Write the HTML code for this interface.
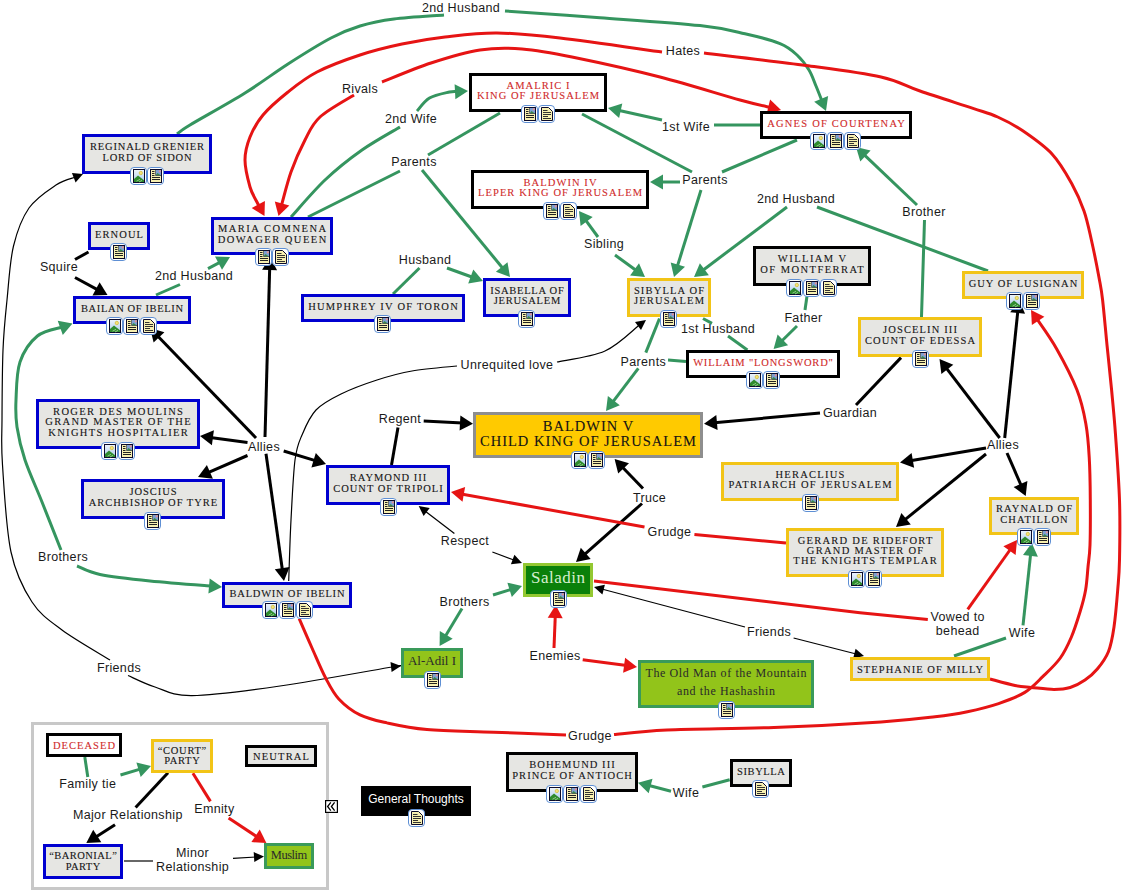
<!DOCTYPE html>
<html><head><meta charset="utf-8">
<style>
html,body{margin:0;padding:0;background:#fff;width:1123px;height:891px;overflow:hidden;position:relative}
.box{position:absolute;box-sizing:border-box;display:flex;align-items:center;justify-content:center;text-align:center}
.t{white-space:nowrap}
.icons{position:absolute;display:flex;height:18px}
svg.edges{position:absolute;left:0;top:0}
.lbl{position:absolute;font-family:"Liberation Sans",sans-serif;font-size:12.5px;letter-spacing:0.35px;color:#1a1a1a;white-space:nowrap;line-height:14px;text-align:center;transform:translate(-50%,calc(-50% + 1px))}
</style></head><body>
<div style="position:absolute;left:31px;top:722px;width:298px;height:168px;box-sizing:border-box;border:3px solid #c8c8c8"></div>
<svg style="position:absolute;left:325px;top:800px" width="13" height="13" viewBox="0 0 13 13"><rect x="0.6" y="0.6" width="11.8" height="11.8" fill="#fff" stroke="#000" stroke-width="1.2"/><path d="M5.8 2.3 L2.6 6.5 L5.8 10.7 M9.6 2.3 L6.4 6.5 L9.6 10.7" fill="none" stroke="#000" stroke-width="1.3"/></svg>
<svg class="edges" width="1123" height="891"><path d="M177.0,134.0 C179.2,132.5 178.7,131.8 190.0,125.0 C201.3,118.2 228.7,103.2 245.0,93.0 C261.3,82.8 273.7,73.2 288.0,64.0 C302.3,54.8 319.0,44.3 331.0,38.0 C343.0,31.7 349.5,29.2 360.0,26.0 C370.5,22.8 380.0,20.8 394.0,19.0 C408.0,17.2 435.7,15.7 444.0,15.0" fill="none" stroke="#35955f" stroke-width="3" stroke-linejoin="round" stroke-linecap="butt"/><path d="M505.0,11.0 C520.8,12.1 567.5,15.3 600.0,17.7 C632.5,20.1 675.8,22.9 700.0,25.6 C724.2,28.3 731.7,30.7 745.0,33.7 C758.3,36.7 771.3,40.1 780.0,43.6 C788.7,47.1 792.2,50.6 797.0,55.0 C801.8,59.4 805.8,64.8 809.0,70.0 C812.2,75.2 813.8,80.8 816.0,86.0 C818.2,91.2 821.1,98.8 822.1,101.3" fill="none" stroke="#35955f" stroke-width="3" stroke-linejoin="round" stroke-linecap="butt"/><path d="M826.0,111.0 L814.2,101.7 L828.1,96.1 Z" fill="#35955f"/><path d="M990.0,679.0 C994.2,680.1 1008.2,684.1 1015.0,685.5 C1021.8,686.9 1024.5,686.8 1031.0,687.4 C1037.5,688.0 1047.5,689.4 1054.0,689.4 C1060.5,689.4 1065.0,689.1 1070.2,687.5 C1075.4,685.9 1080.5,683.1 1085.0,680.0 C1089.5,676.9 1093.4,673.7 1097.3,669.0 C1101.2,664.3 1105.6,658.7 1108.4,651.7 C1111.2,644.7 1112.5,637.3 1114.0,627.0 C1115.5,616.7 1116.8,601.2 1117.7,590.0 C1118.6,578.8 1119.2,575.0 1119.5,560.0 C1119.8,545.0 1120.2,520.9 1119.5,500.0 C1118.8,479.1 1116.8,452.9 1115.5,434.6 C1114.2,416.3 1113.0,404.9 1111.6,390.0 C1110.2,375.1 1108.5,360.0 1107.0,345.0 C1105.5,330.0 1103.9,311.2 1102.6,300.0 C1101.3,288.8 1100.8,287.4 1099.0,277.5 C1097.2,267.6 1094.0,251.6 1091.5,240.5 C1089.0,229.4 1087.3,220.5 1084.0,211.0 C1080.7,201.5 1077.1,193.2 1071.8,183.7 C1066.5,174.2 1060.2,162.8 1052.0,154.0 C1043.8,145.2 1031.5,136.8 1022.4,130.6 C1013.4,124.4 1005.9,120.7 997.7,117.0 C989.5,113.3 986.0,112.7 973.0,108.4 C960.0,104.1 935.3,96.2 920.0,91.0 C904.7,85.8 900.0,81.2 881.0,77.0 C862.0,72.8 835.5,69.5 806.0,65.5 C776.5,61.5 721.0,55.1 704.0,53.0" fill="none" stroke="#e61414" stroke-width="3" stroke-linejoin="round" stroke-linecap="butt"/><path d="M662.0,52.0 C645.0,49.7 587.5,41.2 560.0,38.0 C532.5,34.8 516.2,33.2 497.0,33.0 C477.8,32.8 460.8,35.2 445.0,37.0 C429.2,38.8 416.2,41.0 402.0,44.0 C387.8,47.0 374.2,50.3 360.0,55.0 C345.8,59.7 329.0,65.8 317.0,72.0 C305.0,78.2 297.0,84.8 288.0,92.0 C279.0,99.2 269.3,107.5 263.0,115.0 C256.7,122.5 253.0,129.5 250.0,137.0 C247.0,144.5 245.0,151.7 245.0,160.0 C245.0,168.3 248.1,180.2 250.0,187.0 C251.9,193.8 254.8,197.7 256.4,201.0 C258.0,204.3 259.0,205.9 259.6,206.8" fill="none" stroke="#e61414" stroke-width="3" stroke-linejoin="round" stroke-linecap="butt"/><path d="M264.5,216.0 L251.7,208.1 L264.9,201.0 Z" fill="#e61414"/><path d="M281.3,206.0 C283.0,200.3 287.1,183.0 291.0,172.0 C294.9,161.0 300.2,149.2 305.0,140.0 C309.8,130.8 311.8,124.5 320.0,117.0 C328.2,109.5 348.3,98.7 354.0,95.0" fill="none" stroke="#e61414" stroke-width="3" stroke-linejoin="round" stroke-linecap="butt"/><path d="M278.5,216.0 L274.8,201.4 L289.3,205.5 Z" fill="#e61414"/><path d="M382.0,82.0 C390.2,78.8 414.7,68.3 431.0,63.0 C447.3,57.7 464.8,52.3 480.0,50.0 C495.2,47.7 506.7,47.8 522.0,49.0 C537.3,50.2 549.0,52.3 572.0,57.0 C595.0,61.7 632.0,69.8 660.0,77.0 C688.0,84.2 721.5,94.9 740.0,100.0 C758.5,105.1 765.7,106.3 770.9,107.5" fill="none" stroke="#e61414" stroke-width="3" stroke-linejoin="round" stroke-linecap="butt"/><path d="M781.0,110.0 L766.6,114.2 L770.1,99.6 Z" fill="#e61414"/><path d="M291.0,217.0 C296.7,210.8 313.2,191.2 325.0,180.0 C336.8,168.8 349.5,158.8 362.0,150.0 C374.5,141.2 393.7,130.8 400.0,127.0" fill="none" stroke="#35955f" stroke-width="3" stroke-linejoin="round" stroke-linecap="butt"/><path d="M417.0,111.0 C419.1,108.8 424.1,101.2 429.5,98.0 C434.9,94.8 444.8,93.1 449.5,92.0 C454.2,90.9 456.3,91.6 457.6,91.6" fill="none" stroke="#35955f" stroke-width="3" stroke-linejoin="round" stroke-linecap="butt"/><path d="M468.0,91.0 L455.4,99.2 L454.6,84.2 Z" fill="#35955f"/><path d="M308.0,217.0 L400.0,171.0" fill="none" stroke="#35955f" stroke-width="3" stroke-linejoin="round" stroke-linecap="butt"/><path d="M428.0,155.0 L500.0,113.0" fill="none" stroke="#35955f" stroke-width="3" stroke-linejoin="round" stroke-linecap="butt"/><path d="M422.0,170.0 L503.4,269.0" fill="none" stroke="#35955f" stroke-width="3" stroke-linejoin="round" stroke-linecap="butt"/><path d="M510.0,277.0 L495.9,271.7 L507.5,262.2 Z" fill="#35955f"/><path d="M662.0,120.0 L618.2,110.3" fill="none" stroke="#35955f" stroke-width="3" stroke-linejoin="round" stroke-linecap="butt"/><path d="M608.0,108.0 L622.3,103.5 L619.1,118.1 Z" fill="#35955f"/><path d="M714.0,125.0 L760.0,125.0" fill="none" stroke="#35955f" stroke-width="3" stroke-linejoin="round" stroke-linecap="butt"/><path d="M582.0,114.0 L692.0,172.0" fill="none" stroke="#35955f" stroke-width="3" stroke-linejoin="round" stroke-linecap="butt"/><path d="M797.0,140.0 L722.0,172.0" fill="none" stroke="#35955f" stroke-width="3" stroke-linejoin="round" stroke-linecap="butt"/><path d="M680.0,182.0 L660.4,182.0" fill="none" stroke="#35955f" stroke-width="3" stroke-linejoin="round" stroke-linecap="butt"/><path d="M650.0,182.0 L663.0,174.5 L663.0,189.5 Z" fill="#35955f"/><path d="M701.0,190.0 L677.1,267.1" fill="none" stroke="#35955f" stroke-width="3" stroke-linejoin="round" stroke-linecap="butt"/><path d="M674.0,277.0 L670.7,262.4 L685.0,266.8 Z" fill="#35955f"/><path d="M598.0,237.0 L585.1,219.4" fill="none" stroke="#35955f" stroke-width="3" stroke-linejoin="round" stroke-linecap="butt"/><path d="M579.0,211.0 L592.7,217.1 L580.6,225.9 Z" fill="#35955f"/><path d="M615.0,255.0 L636.6,270.8" fill="none" stroke="#35955f" stroke-width="3" stroke-linejoin="round" stroke-linecap="butt"/><path d="M645.0,277.0 L630.1,275.4 L639.0,263.3 Z" fill="#35955f"/><path d="M787.0,207.0 L702.3,270.7" fill="none" stroke="#35955f" stroke-width="3" stroke-linejoin="round" stroke-linecap="butt"/><path d="M694.0,277.0 L699.9,263.2 L708.9,275.2 Z" fill="#35955f"/><path d="M817.0,207.0 L988.0,271.0" fill="none" stroke="#35955f" stroke-width="3" stroke-linejoin="round" stroke-linecap="butt"/><path d="M917.0,205.0 L863.5,154.2" fill="none" stroke="#35955f" stroke-width="3" stroke-linejoin="round" stroke-linecap="butt"/><path d="M856.0,147.0 L870.6,150.5 L860.3,161.4 Z" fill="#35955f"/><path d="M924.5,220.0 L921.5,317.0" fill="none" stroke="#35955f" stroke-width="3" stroke-linejoin="round" stroke-linecap="butt"/><path d="M393.0,294.0 L419.5,268.0" fill="none" stroke="#35955f" stroke-width="3" stroke-linejoin="round" stroke-linecap="butt"/><path d="M447.0,268.0 L473.2,277.5" fill="none" stroke="#35955f" stroke-width="3" stroke-linejoin="round" stroke-linecap="butt"/><path d="M483.0,281.0 L468.2,283.6 L473.3,269.5 Z" fill="#35955f"/><path d="M156.0,295.0 L180.0,284.5" fill="none" stroke="#35955f" stroke-width="3" stroke-linejoin="round" stroke-linecap="butt"/><path d="M208.0,268.6 L220.8,261.9" fill="none" stroke="#35955f" stroke-width="3" stroke-linejoin="round" stroke-linecap="butt"/><path d="M230.0,257.0 L222.0,269.7 L215.0,256.4 Z" fill="#35955f"/><path d="M88.5,252.0 L75.0,259.5" fill="none" stroke="#000000" stroke-width="3" stroke-linejoin="round" stroke-linecap="butt"/><path d="M75.0,277.5 L98.3,290.1" fill="none" stroke="#000000" stroke-width="3" stroke-linejoin="round" stroke-linecap="butt"/><path d="M107.5,295.0 L92.5,295.4 L99.6,282.2 Z" fill="#000000"/><path d="M62.7,327.0 C58.5,328.5 44.5,330.2 37.4,336.0 C30.3,341.8 23.6,351.3 20.0,362.0 C16.4,372.7 16.5,389.2 16.0,400.0 C15.5,410.8 15.5,417.0 17.0,427.0 C18.5,437.0 20.8,447.5 25.0,460.0 C29.2,472.5 36.0,487.0 42.0,502.0 C48.0,517.0 57.8,542.0 61.0,550.0" fill="none" stroke="#35955f" stroke-width="3" stroke-linejoin="round" stroke-linecap="butt"/><path d="M72.5,323.5 L62.8,334.9 L57.7,320.8 Z" fill="#35955f"/><path d="M77.0,566.0 C80.8,567.4 87.8,572.0 100.0,574.5 C112.2,577.0 131.4,579.1 150.0,581.0 C168.6,582.9 201.4,585.3 211.6,586.1" fill="none" stroke="#35955f" stroke-width="3" stroke-linejoin="round" stroke-linecap="butt"/><path d="M222.0,587.0 L208.4,593.4 L209.7,578.4 Z" fill="#35955f"/><path d="M75.6,177.0 C72.3,178.3 63.8,179.8 56.0,185.0 C48.2,190.2 36.1,197.8 29.0,208.0 C21.9,218.2 17.2,230.7 13.5,246.0 C9.8,261.3 8.8,282.7 7.0,300.0 C5.2,317.3 3.8,330.0 3.0,350.0 C2.2,370.0 2.1,400.8 2.0,420.0 C1.9,439.2 1.0,443.0 2.5,465.0 C4.0,487.0 6.1,529.2 11.0,552.0 C15.9,574.8 23.5,589.0 32.0,602.0 C40.5,615.0 49.0,620.3 62.0,630.0 C75.0,639.7 102.0,655.0 110.0,660.0" fill="none" stroke="#000000" stroke-width="1.2" stroke-linejoin="round" stroke-linecap="butt"/><path d="M83.0,174.0 L75.6,182.4 L71.9,173.1 Z" fill="#000000"/><path d="M128.0,675.5 C132.5,677.4 144.3,683.6 155.0,687.0 C165.7,690.4 171.2,695.8 192.0,695.6 C212.8,695.4 246.7,690.8 280.0,686.0 C313.3,681.2 373.2,670.2 392.0,667.0 C410.8,663.8 392.9,666.9 393.0,666.9" fill="none" stroke="#000000" stroke-width="1.2" stroke-linejoin="round" stroke-linecap="butt"/><path d="M401.0,666.0 L391.6,672.1 L390.5,662.1 Z" fill="#000000"/><path d="M256.0,438.0 L157.2,335.5" fill="none" stroke="#000000" stroke-width="3" stroke-linejoin="round" stroke-linecap="butt"/><path d="M150.0,328.0 L164.4,332.2 L153.6,342.6 Z" fill="#000000"/><path d="M265.0,437.0 L269.7,267.4" fill="none" stroke="#000000" stroke-width="3" stroke-linejoin="round" stroke-linecap="butt"/><path d="M270.0,257.0 L277.1,270.2 L262.1,269.8 Z" fill="#000000"/><path d="M247.5,442.4 L210.3,437.4" fill="none" stroke="#000000" stroke-width="3" stroke-linejoin="round" stroke-linecap="butt"/><path d="M200.0,436.0 L213.9,430.3 L211.9,445.2 Z" fill="#000000"/><path d="M247.5,455.5 L207.5,472.9" fill="none" stroke="#000000" stroke-width="3" stroke-linejoin="round" stroke-linecap="butt"/><path d="M198.0,477.0 L206.9,464.9 L212.9,478.7 Z" fill="#000000"/><path d="M283.7,451.0 L316.1,460.9" fill="none" stroke="#000000" stroke-width="3" stroke-linejoin="round" stroke-linecap="butt"/><path d="M326.0,464.0 L311.4,467.4 L315.8,453.0 Z" fill="#000000"/><path d="M266.0,453.7 L282.5,570.7" fill="none" stroke="#000000" stroke-width="3" stroke-linejoin="round" stroke-linecap="butt"/><path d="M284.0,581.0 L274.8,569.2 L289.6,567.1 Z" fill="#000000"/><path d="M288.7,581.0 C289.1,570.8 289.9,540.2 291.0,520.0 C292.1,499.8 293.2,474.2 295.0,460.0 C296.8,445.8 298.5,443.3 302.0,435.0 C305.5,426.7 309.5,416.8 316.0,410.0 C322.5,403.2 330.8,399.0 341.0,394.0 C351.2,389.0 365.2,383.8 377.0,380.0 C388.8,376.2 398.7,373.3 412.0,371.0 C425.3,368.7 449.5,366.8 457.0,366.0" fill="none" stroke="#000000" stroke-width="1.2" stroke-linejoin="round" stroke-linecap="butt"/><path d="M557.0,362.0 C565.0,360.2 591.2,357.2 605.0,351.0 C618.8,344.8 633.8,329.2 639.6,324.8" fill="none" stroke="#000000" stroke-width="1.2" stroke-linejoin="round" stroke-linecap="butt"/><path d="M646.0,320.0 L641.0,330.0 L635.0,322.0 Z" fill="#000000"/><path d="M391.5,465.0 L398.0,427.5" fill="none" stroke="#000000" stroke-width="3" stroke-linejoin="round" stroke-linecap="butt"/><path d="M423.7,421.0 L462.6,423.1" fill="none" stroke="#000000" stroke-width="3" stroke-linejoin="round" stroke-linecap="butt"/><path d="M473.0,423.7 L459.6,430.5 L460.4,415.5 Z" fill="#000000"/><path d="M901.0,357.6 L856.0,405.0" fill="none" stroke="#000000" stroke-width="3" stroke-linejoin="round" stroke-linecap="butt"/><path d="M820.0,413.0 L714.4,422.7" fill="none" stroke="#000000" stroke-width="3" stroke-linejoin="round" stroke-linecap="butt"/><path d="M704.0,423.7 L716.3,415.0 L717.6,430.0 Z" fill="#000000"/><path d="M999.7,438.0 L945.8,367.3" fill="none" stroke="#000000" stroke-width="3" stroke-linejoin="round" stroke-linecap="butt"/><path d="M939.5,359.0 L953.3,364.8 L941.4,373.9 Z" fill="#000000"/><path d="M1004.7,438.0 L1017.9,310.3" fill="none" stroke="#000000" stroke-width="3" stroke-linejoin="round" stroke-linecap="butt"/><path d="M1019.0,300.0 L1025.1,313.7 L1010.2,312.2 Z" fill="#000000"/><path d="M986.0,448.0 L910.3,460.8" fill="none" stroke="#000000" stroke-width="3" stroke-linejoin="round" stroke-linecap="butt"/><path d="M900.0,462.5 L911.6,452.9 L914.1,467.7 Z" fill="#000000"/><path d="M986.0,454.0 L904.1,520.4" fill="none" stroke="#000000" stroke-width="3" stroke-linejoin="round" stroke-linecap="butt"/><path d="M896.0,527.0 L901.4,513.0 L910.8,524.6 Z" fill="#000000"/><path d="M1007.0,453.0 L1021.6,486.5" fill="none" stroke="#000000" stroke-width="3" stroke-linejoin="round" stroke-linecap="butt"/><path d="M1025.7,496.0 L1013.6,487.1 L1027.4,481.1 Z" fill="#000000"/><path d="M643.0,488.5 L621.8,466.5" fill="none" stroke="#000000" stroke-width="3" stroke-linejoin="round" stroke-linecap="butt"/><path d="M614.6,459.0 L629.0,463.2 L618.2,473.6 Z" fill="#000000"/><path d="M642.0,503.5 L583.8,555.1" fill="none" stroke="#000000" stroke-width="3" stroke-linejoin="round" stroke-linecap="butt"/><path d="M576.0,562.0 L580.8,547.8 L590.7,559.0 Z" fill="#000000"/><path d="M786.0,543.0 L694.4,534.6" fill="none" stroke="#e61414" stroke-width="3" stroke-linejoin="round" stroke-linecap="butt"/><path d="M644.5,527.0 L461.2,493.9" fill="none" stroke="#e61414" stroke-width="3" stroke-linejoin="round" stroke-linecap="butt"/><path d="M451.0,492.0 L465.1,486.9 L462.5,501.7 Z" fill="#e61414"/><path d="M454.4,533.4 L425.0,510.9" fill="none" stroke="#000000" stroke-width="1.2" stroke-linejoin="round" stroke-linecap="butt"/><path d="M418.7,506.0 L429.7,508.1 L423.6,516.1 Z" fill="#000000"/><path d="M492.4,552.0 L514.5,560.2" fill="none" stroke="#000000" stroke-width="1.2" stroke-linejoin="round" stroke-linecap="butt"/><path d="M522.0,563.0 L510.9,564.2 L514.4,554.8 Z" fill="#000000"/><path d="M462.0,608.6 L444.9,637.1" fill="none" stroke="#35955f" stroke-width="3" stroke-linejoin="round" stroke-linecap="butt"/><path d="M439.6,646.0 L439.8,631.0 L452.7,638.7 Z" fill="#35955f"/><path d="M493.0,595.0 L512.1,589.1" fill="none" stroke="#35955f" stroke-width="3" stroke-linejoin="round" stroke-linecap="butt"/><path d="M522.0,586.0 L511.8,597.0 L507.4,582.7 Z" fill="#35955f"/><path d="M554.0,648.0 L555.3,615.4" fill="none" stroke="#e61414" stroke-width="3" stroke-linejoin="round" stroke-linecap="butt"/><path d="M555.7,605.0 L562.7,618.3 L547.7,617.7 Z" fill="#e61414"/><path d="M582.7,659.7 L626.7,665.6" fill="none" stroke="#e61414" stroke-width="3" stroke-linejoin="round" stroke-linecap="butt"/><path d="M637.0,667.0 L623.1,672.7 L625.1,657.8 Z" fill="#e61414"/><path d="M745.0,627.0 L601.7,589.0" fill="none" stroke="#000000" stroke-width="1.2" stroke-linejoin="round" stroke-linecap="butt"/><path d="M594.0,587.0 L604.9,584.7 L602.4,594.4 Z" fill="#000000"/><path d="M793.6,638.0 L856.2,654.0" fill="none" stroke="#000000" stroke-width="1.2" stroke-linejoin="round" stroke-linecap="butt"/><path d="M864.0,656.0 L853.1,658.4 L855.6,648.7 Z" fill="#000000"/><path d="M594.0,581.0 L860.0,612.7 L927.8,619.4" fill="none" stroke="#e61414" stroke-width="3" stroke-linejoin="round" stroke-linecap="butt"/><path d="M967.7,609.4 L1011.0,548.5" fill="none" stroke="#e61414" stroke-width="3" stroke-linejoin="round" stroke-linecap="butt"/><path d="M1017.0,540.0 L1015.6,554.9 L1003.4,546.3 Z" fill="#e61414"/><path d="M954.0,656.0 L1006.0,638.0" fill="none" stroke="#35955f" stroke-width="3" stroke-linejoin="round" stroke-linecap="butt"/><path d="M1023.0,625.3 L1030.7,553.3" fill="none" stroke="#35955f" stroke-width="3" stroke-linejoin="round" stroke-linecap="butt"/><path d="M1031.8,543.0 L1037.9,556.7 L1023.0,555.1 Z" fill="#35955f"/><path d="M299.2,618.7 C301.3,623.6 307.6,638.2 312.0,648.0 C316.4,657.8 320.9,669.0 325.4,677.5 C329.9,686.0 333.0,692.7 338.8,698.9 C344.6,705.1 352.0,710.9 360.0,714.9 C368.0,718.9 375.7,720.4 386.9,722.9 C398.1,725.4 409.2,728.0 427.0,729.6 C444.8,731.2 470.5,731.3 493.7,732.2 C516.9,733.1 554.0,734.5 566.0,735.0" fill="none" stroke="#e61414" stroke-width="3" stroke-linejoin="round" stroke-linecap="butt"/><path d="M614.0,734.6 C622.8,733.8 640.3,731.2 667.0,730.0 C693.7,728.8 738.3,728.8 774.0,727.5 C809.7,726.2 854.2,723.8 881.0,722.0 C907.8,720.2 920.6,718.5 935.0,716.8 C949.4,715.1 956.8,713.9 967.4,711.7 C978.0,709.5 989.0,706.8 998.6,703.6 C1008.2,700.4 1017.4,696.9 1024.8,692.4 C1032.2,687.9 1037.1,682.1 1043.0,676.4 C1048.9,670.7 1055.6,664.6 1060.3,658.0 C1065.0,651.4 1068.1,644.7 1071.4,637.0 C1074.7,629.3 1077.6,619.8 1080.0,612.0 C1082.4,604.2 1084.3,597.5 1085.6,590.0 C1086.9,582.5 1087.3,574.5 1088.0,567.0 C1088.7,559.5 1089.6,556.2 1090.0,545.0 C1090.4,533.8 1090.4,514.7 1090.3,500.0 C1090.2,485.3 1090.0,469.8 1089.2,457.0 C1088.5,444.2 1087.8,434.6 1085.8,423.4 C1083.8,412.2 1081.8,402.2 1076.9,389.8 C1072.1,377.4 1063.4,360.9 1056.7,349.0 C1050.0,337.1 1040.1,323.7 1036.7,318.7" fill="none" stroke="#e61414" stroke-width="3" stroke-linejoin="round" stroke-linecap="butt"/><path d="M1031.0,310.0 L1044.4,316.7 L1031.9,325.0 Z" fill="#e61414"/><path d="M807.0,296.0 L805.0,310.0" fill="none" stroke="#35955f" stroke-width="3" stroke-linejoin="round" stroke-linecap="butt"/><path d="M797.0,326.0 L781.0,341.7" fill="none" stroke="#35955f" stroke-width="3" stroke-linejoin="round" stroke-linecap="butt"/><path d="M773.6,349.0 L777.6,334.5 L788.1,345.2 Z" fill="#35955f"/><path d="M703.0,318.5 L712.0,323.4" fill="none" stroke="#35955f" stroke-width="3" stroke-linejoin="round" stroke-linecap="butt"/><path d="M728.0,336.0 L747.4,350.0" fill="none" stroke="#35955f" stroke-width="3" stroke-linejoin="round" stroke-linecap="butt"/><path d="M659.5,318.5 L645.8,352.6" fill="none" stroke="#35955f" stroke-width="3" stroke-linejoin="round" stroke-linecap="butt"/><path d="M668.0,360.0 L686.0,361.6" fill="none" stroke="#35955f" stroke-width="3" stroke-linejoin="round" stroke-linecap="butt"/><path d="M638.3,368.3 L612.3,402.7" fill="none" stroke="#35955f" stroke-width="3" stroke-linejoin="round" stroke-linecap="butt"/><path d="M606.0,411.0 L607.9,396.1 L619.8,405.2 Z" fill="#35955f"/><path d="M729.7,779.7 L702.4,787.0" fill="none" stroke="#35955f" stroke-width="3" stroke-linejoin="round" stroke-linecap="butt"/><path d="M671.0,791.3 L648.1,785.3" fill="none" stroke="#35955f" stroke-width="3" stroke-linejoin="round" stroke-linecap="butt"/><path d="M638.0,782.7 L652.5,778.7 L648.7,793.2 Z" fill="#35955f"/><path d="M84.8,757.0 L87.8,777.0" fill="none" stroke="#35955f" stroke-width="3" stroke-linejoin="round" stroke-linecap="butt"/><path d="M120.5,775.0 L141.0,768.9" fill="none" stroke="#35955f" stroke-width="3" stroke-linejoin="round" stroke-linecap="butt"/><path d="M151.0,766.0 L140.7,776.9 L136.4,762.5 Z" fill="#35955f"/><path d="M168.0,772.7 L135.6,807.5" fill="none" stroke="#000000" stroke-width="3" stroke-linejoin="round" stroke-linecap="butt"/><path d="M115.0,824.7 L95.1,837.4" fill="none" stroke="#000000" stroke-width="3" stroke-linejoin="round" stroke-linecap="butt"/><path d="M86.3,843.0 L93.2,829.7 L101.3,842.3 Z" fill="#000000"/><path d="M192.9,773.3 L210.4,801.4" fill="none" stroke="#e61414" stroke-width="3" stroke-linejoin="round" stroke-linecap="butt"/><path d="M228.6,818.0 L257.7,837.3" fill="none" stroke="#e61414" stroke-width="3" stroke-linejoin="round" stroke-linecap="butt"/><path d="M266.4,843.0 L251.4,842.1 L259.7,829.6 Z" fill="#e61414"/><path d="M124.0,861.0 L153.0,861.0" fill="none" stroke="#000000" stroke-width="1.2" stroke-linejoin="round" stroke-linecap="butt"/><path d="M233.0,858.3 L256.0,857.0" fill="none" stroke="#000000" stroke-width="1.2" stroke-linejoin="round" stroke-linecap="butt"/><path d="M264.0,856.5 L254.3,862.1 L253.7,852.1 Z" fill="#000000"/></svg>
<div class="lbl" style="left:461px;top:7px">2nd Husband</div><div class="lbl" style="left:683px;top:50px">Hates</div><div class="lbl" style="left:360px;top:88px">Rivals</div><div class="lbl" style="left:411px;top:118px">2nd Wife</div><div class="lbl" style="left:414px;top:161px">Parents</div><div class="lbl" style="left:686px;top:126px">1st Wife</div><div class="lbl" style="left:705px;top:179px">Parents</div><div class="lbl" style="left:604px;top:243px">Sibling</div><div class="lbl" style="left:796px;top:198px">2nd Husband</div><div class="lbl" style="left:924px;top:211px">Brother</div><div class="lbl" style="left:425px;top:259px">Husband</div><div class="lbl" style="left:194px;top:275px">2nd Husband</div><div class="lbl" style="left:59px;top:266px">Squire</div><div class="lbl" style="left:63px;top:556px">Brothers</div><div class="lbl" style="left:119px;top:667px">Friends</div><div class="lbl" style="left:264px;top:446px">Allies</div><div class="lbl" style="left:507px;top:364px">Unrequited love</div><div class="lbl" style="left:400px;top:417.5px">Regent</div><div class="lbl" style="left:850px;top:412px">Guardian</div><div class="lbl" style="left:1003px;top:444px">Allies</div><div class="lbl" style="left:649.5px;top:496.7px">Truce</div><div class="lbl" style="left:669.5px;top:531px">Grudge</div><div class="lbl" style="left:465px;top:540px">Respect</div><div class="lbl" style="left:464.5px;top:601px">Brothers</div><div class="lbl" style="left:555px;top:655px">Enemies</div><div class="lbl" style="left:769px;top:631px">Friends</div><div class="lbl" style="left:957.7px;top:623px">Vowed to<br>behead</div><div class="lbl" style="left:1022px;top:632px">Wife</div><div class="lbl" style="left:590px;top:735px">Grudge</div><div class="lbl" style="left:803.5px;top:317px">Father</div><div class="lbl" style="left:718px;top:328px">1st Husband</div><div class="lbl" style="left:643.3px;top:360.8px">Parents</div><div class="lbl" style="left:686px;top:792px">Wife</div><div class="lbl" style="left:87.8px;top:783.3px">Family tie</div><div class="lbl" style="left:127.8px;top:814.4px">Major Relationship</div><div class="lbl" style="left:214.4px;top:807.5px">Emnity</div><div class="lbl" style="left:192.6px;top:858.7px">Minor<br>Relationship</div>
<div class="box" style="left:82px;top:134px;width:130px;height:40px;background:#e6e6e3;border:3px solid #0000d0;color:#141414;"><div class="t" style="font-family:'Liberation Serif', serif;font-size:10.5px;line-height:10.19px;text-transform:uppercase;font-weight:normal;-webkit-text-stroke:0.1px currentColor;padding-bottom:3px;padding-top:0px;letter-spacing:0.81px;margin-right:-0.81px"><div><span>Reginald Grenier</span></div><div><span>Lord of Sidon</span></div></div></div><div class="icons" style="left:130.0px;top:167px;width:34px"><svg width="17" height="18" viewBox="0 0 17 18" style="display:block"><rect x="0.5" y="0.5" width="16" height="17" rx="3.5" ry="3.5" fill="#fff" stroke="#5e8fd4" stroke-width="1"/><defs><linearGradient id="sky" x1="0" y1="0" x2="0" y2="1"><stop offset="0" stop-color="#eef5fc"/><stop offset="1" stop-color="#a9c9ea"/></linearGradient></defs><rect x="3.5" y="2.5" width="11" height="13" fill="url(#sky)" stroke="#0b0b2a" stroke-width="1"/><circle cx="10.8" cy="6" r="1.7" fill="#f3e27a" stroke="#c8a800" stroke-width="0.5"/><path d="M4 15 V12 L8 8.6 L14 13.2 V15 Z" fill="#2e8b2e"/><path d="M6.5 14.2 L10 12.3 M9 15 L12 13.4" fill="none" stroke="#a8d8a0" stroke-width="0.8"/></svg><svg width="17" height="18" viewBox="0 0 17 18" style="display:block"><rect x="0.5" y="0.5" width="16" height="17" rx="3.5" ry="3.5" fill="#fff" stroke="#5e8fd4" stroke-width="1"/><rect x="3.5" y="2.5" width="11" height="13" fill="#f7f0b0" stroke="#0b0b2a" stroke-width="1"/><rect x="8.5" y="3" width="5.5" height="5.5" fill="#7d9fd2"/><path d="M8.5 8.5 L10.5 6 L14 8.5 Z" fill="#3a8a4a"/><circle cx="12.8" cy="4.3" r="1.1" fill="#e88f8f"/><path d="M8.5 8.5 H14 M8.5 3 V8.5" fill="none" stroke="#333" stroke-width="0.6"/><path d="M5 4.5 H7.5 M5 6.5 H7.5 M5 8.5 H7.5 M5 10.5 H13 M5 12.5 H13" fill="none" stroke="#222" stroke-width="1"/></svg></div>
<div class="box" style="left:88px;top:222px;width:62px;height:28px;background:#e6e6e3;border:3px solid #0000d0;color:#141414;"><div class="t" style="font-family:'Liberation Serif', serif;font-size:10.5px;line-height:10.19px;text-transform:uppercase;font-weight:normal;-webkit-text-stroke:0.1px currentColor;padding-bottom:3px;padding-top:2px;letter-spacing:1.08px;margin-right:-1.08px"><div><span>Ernoul</span></div></div></div><div class="icons" style="left:110.0px;top:243px;width:17px"><svg width="17" height="18" viewBox="0 0 17 18" style="display:block"><rect x="0.5" y="0.5" width="16" height="17" rx="3.5" ry="3.5" fill="#fff" stroke="#5e8fd4" stroke-width="1"/><rect x="3.5" y="2.5" width="11" height="13" fill="#f7f0b0" stroke="#0b0b2a" stroke-width="1"/><rect x="8.5" y="3" width="5.5" height="5.5" fill="#7d9fd2"/><path d="M8.5 8.5 L10.5 6 L14 8.5 Z" fill="#3a8a4a"/><circle cx="12.8" cy="4.3" r="1.1" fill="#e88f8f"/><path d="M8.5 8.5 H14 M8.5 3 V8.5" fill="none" stroke="#333" stroke-width="0.6"/><path d="M5 4.5 H7.5 M5 6.5 H7.5 M5 8.5 H7.5 M5 10.5 H13 M5 12.5 H13" fill="none" stroke="#222" stroke-width="1"/></svg></div>
<div class="box" style="left:73px;top:296px;width:118px;height:28px;background:#e6e6e3;border:3px solid #0000d0;color:#141414;"><div class="t" style="font-family:'Liberation Serif', serif;font-size:10.5px;line-height:10.19px;text-transform:uppercase;font-weight:normal;-webkit-text-stroke:0.1px currentColor;padding-bottom:3px;padding-top:2px;letter-spacing:0.62px;margin-right:-0.62px"><div><span>Bailan of Ibelin</span></div></div></div><div class="icons" style="left:106.0px;top:317px;width:51px"><svg width="17" height="18" viewBox="0 0 17 18" style="display:block"><rect x="0.5" y="0.5" width="16" height="17" rx="3.5" ry="3.5" fill="#fff" stroke="#5e8fd4" stroke-width="1"/><defs><linearGradient id="sky" x1="0" y1="0" x2="0" y2="1"><stop offset="0" stop-color="#eef5fc"/><stop offset="1" stop-color="#a9c9ea"/></linearGradient></defs><rect x="3.5" y="2.5" width="11" height="13" fill="url(#sky)" stroke="#0b0b2a" stroke-width="1"/><circle cx="10.8" cy="6" r="1.7" fill="#f3e27a" stroke="#c8a800" stroke-width="0.5"/><path d="M4 15 V12 L8 8.6 L14 13.2 V15 Z" fill="#2e8b2e"/><path d="M6.5 14.2 L10 12.3 M9 15 L12 13.4" fill="none" stroke="#a8d8a0" stroke-width="0.8"/></svg><svg width="17" height="18" viewBox="0 0 17 18" style="display:block"><rect x="0.5" y="0.5" width="16" height="17" rx="3.5" ry="3.5" fill="#fff" stroke="#5e8fd4" stroke-width="1"/><rect x="3.5" y="2.5" width="11" height="13" fill="#f7f0b0" stroke="#0b0b2a" stroke-width="1"/><rect x="8.5" y="3" width="5.5" height="5.5" fill="#7d9fd2"/><path d="M8.5 8.5 L10.5 6 L14 8.5 Z" fill="#3a8a4a"/><circle cx="12.8" cy="4.3" r="1.1" fill="#e88f8f"/><path d="M8.5 8.5 H14 M8.5 3 V8.5" fill="none" stroke="#333" stroke-width="0.6"/><path d="M5 4.5 H7.5 M5 6.5 H7.5 M5 8.5 H7.5 M5 10.5 H13 M5 12.5 H13" fill="none" stroke="#222" stroke-width="1"/></svg><svg width="17" height="18" viewBox="0 0 17 18" style="display:block"><rect x="0.5" y="0.5" width="16" height="17" rx="3.5" ry="3.5" fill="#fff" stroke="#5e8fd4" stroke-width="1"/><path d="M3.5 2.5 H10.5 L14.5 6.5 V15.5 H3.5 Z" fill="#f7f0b0" stroke="#0b0b2a" stroke-width="1"/><path d="M5 5.5 H9.5 M5 7.5 H13 M5 9.5 H13 M5 11.5 H10 M5 13.5 H13" fill="none" stroke="#333" stroke-width="1"/></svg></div>
<div class="box" style="left:211px;top:217px;width:122px;height:38px;background:#e6e6e3;border:3px solid #0000d0;color:#141414;"><div class="t" style="font-family:'Liberation Serif', serif;font-size:10.5px;line-height:10.19px;text-transform:uppercase;font-weight:normal;-webkit-text-stroke:0.1px currentColor;padding-bottom:3px;padding-top:0px;letter-spacing:1.50px;margin-right:-1.50px"><div><span>Maria Comnena</span></div><div><span>Dowager Queen</span></div></div></div><div class="icons" style="left:255.0px;top:248px;width:34px"><svg width="17" height="18" viewBox="0 0 17 18" style="display:block"><rect x="0.5" y="0.5" width="16" height="17" rx="3.5" ry="3.5" fill="#fff" stroke="#5e8fd4" stroke-width="1"/><rect x="3.5" y="2.5" width="11" height="13" fill="#f7f0b0" stroke="#0b0b2a" stroke-width="1"/><rect x="8.5" y="3" width="5.5" height="5.5" fill="#7d9fd2"/><path d="M8.5 8.5 L10.5 6 L14 8.5 Z" fill="#3a8a4a"/><circle cx="12.8" cy="4.3" r="1.1" fill="#e88f8f"/><path d="M8.5 8.5 H14 M8.5 3 V8.5" fill="none" stroke="#333" stroke-width="0.6"/><path d="M5 4.5 H7.5 M5 6.5 H7.5 M5 8.5 H7.5 M5 10.5 H13 M5 12.5 H13" fill="none" stroke="#222" stroke-width="1"/></svg><svg width="17" height="18" viewBox="0 0 17 18" style="display:block"><rect x="0.5" y="0.5" width="16" height="17" rx="3.5" ry="3.5" fill="#fff" stroke="#5e8fd4" stroke-width="1"/><path d="M3.5 2.5 H10.5 L14.5 6.5 V15.5 H3.5 Z" fill="#f7f0b0" stroke="#0b0b2a" stroke-width="1"/><path d="M5 5.5 H9.5 M5 7.5 H13 M5 9.5 H13 M5 11.5 H10 M5 13.5 H13" fill="none" stroke="#333" stroke-width="1"/></svg></div>
<div class="box" style="left:469px;top:73px;width:138px;height:39px;background:#ffffff;border:3px solid #000000;color:#d02a2a;"><div class="t" style="font-family:'Liberation Serif', serif;font-size:10.5px;line-height:10.19px;text-transform:uppercase;font-weight:normal;-webkit-text-stroke:0.1px currentColor;padding-bottom:3px;padding-top:0px;letter-spacing:1.03px;margin-right:-1.03px"><div><span>Amalric I</span></div><div><span>King of Jerusalem</span></div></div></div><div class="icons" style="left:521.0px;top:105px;width:34px"><svg width="17" height="18" viewBox="0 0 17 18" style="display:block"><rect x="0.5" y="0.5" width="16" height="17" rx="3.5" ry="3.5" fill="#fff" stroke="#5e8fd4" stroke-width="1"/><rect x="3.5" y="2.5" width="11" height="13" fill="#f7f0b0" stroke="#0b0b2a" stroke-width="1"/><rect x="8.5" y="3" width="5.5" height="5.5" fill="#7d9fd2"/><path d="M8.5 8.5 L10.5 6 L14 8.5 Z" fill="#3a8a4a"/><circle cx="12.8" cy="4.3" r="1.1" fill="#e88f8f"/><path d="M8.5 8.5 H14 M8.5 3 V8.5" fill="none" stroke="#333" stroke-width="0.6"/><path d="M5 4.5 H7.5 M5 6.5 H7.5 M5 8.5 H7.5 M5 10.5 H13 M5 12.5 H13" fill="none" stroke="#222" stroke-width="1"/></svg><svg width="17" height="18" viewBox="0 0 17 18" style="display:block"><rect x="0.5" y="0.5" width="16" height="17" rx="3.5" ry="3.5" fill="#fff" stroke="#5e8fd4" stroke-width="1"/><path d="M3.5 2.5 H10.5 L14.5 6.5 V15.5 H3.5 Z" fill="#f7f0b0" stroke="#0b0b2a" stroke-width="1"/><path d="M5 5.5 H9.5 M5 7.5 H13 M5 9.5 H13 M5 11.5 H10 M5 13.5 H13" fill="none" stroke="#333" stroke-width="1"/></svg></div>
<div class="box" style="left:760px;top:111px;width:152px;height:28px;background:#ffffff;border:3px solid #000000;color:#d02a2a;"><div class="t" style="font-family:'Liberation Serif', serif;font-size:10.5px;line-height:10.19px;text-transform:uppercase;font-weight:normal;-webkit-text-stroke:0.1px currentColor;padding-bottom:3px;padding-top:2px;letter-spacing:1.23px;margin-right:-1.23px"><div><span>Agnes of Courtenay</span></div></div></div><div class="icons" style="left:810.0px;top:132px;width:51px"><svg width="17" height="18" viewBox="0 0 17 18" style="display:block"><rect x="0.5" y="0.5" width="16" height="17" rx="3.5" ry="3.5" fill="#fff" stroke="#5e8fd4" stroke-width="1"/><defs><linearGradient id="sky" x1="0" y1="0" x2="0" y2="1"><stop offset="0" stop-color="#eef5fc"/><stop offset="1" stop-color="#a9c9ea"/></linearGradient></defs><rect x="3.5" y="2.5" width="11" height="13" fill="url(#sky)" stroke="#0b0b2a" stroke-width="1"/><circle cx="10.8" cy="6" r="1.7" fill="#f3e27a" stroke="#c8a800" stroke-width="0.5"/><path d="M4 15 V12 L8 8.6 L14 13.2 V15 Z" fill="#2e8b2e"/><path d="M6.5 14.2 L10 12.3 M9 15 L12 13.4" fill="none" stroke="#a8d8a0" stroke-width="0.8"/></svg><svg width="17" height="18" viewBox="0 0 17 18" style="display:block"><rect x="0.5" y="0.5" width="16" height="17" rx="3.5" ry="3.5" fill="#fff" stroke="#5e8fd4" stroke-width="1"/><rect x="3.5" y="2.5" width="11" height="13" fill="#f7f0b0" stroke="#0b0b2a" stroke-width="1"/><rect x="8.5" y="3" width="5.5" height="5.5" fill="#7d9fd2"/><path d="M8.5 8.5 L10.5 6 L14 8.5 Z" fill="#3a8a4a"/><circle cx="12.8" cy="4.3" r="1.1" fill="#e88f8f"/><path d="M8.5 8.5 H14 M8.5 3 V8.5" fill="none" stroke="#333" stroke-width="0.6"/><path d="M5 4.5 H7.5 M5 6.5 H7.5 M5 8.5 H7.5 M5 10.5 H13 M5 12.5 H13" fill="none" stroke="#222" stroke-width="1"/></svg><svg width="17" height="18" viewBox="0 0 17 18" style="display:block"><rect x="0.5" y="0.5" width="16" height="17" rx="3.5" ry="3.5" fill="#fff" stroke="#5e8fd4" stroke-width="1"/><path d="M3.5 2.5 H10.5 L14.5 6.5 V15.5 H3.5 Z" fill="#f7f0b0" stroke="#0b0b2a" stroke-width="1"/><path d="M5 5.5 H9.5 M5 7.5 H13 M5 9.5 H13 M5 11.5 H10 M5 13.5 H13" fill="none" stroke="#333" stroke-width="1"/></svg></div>
<div class="box" style="left:471px;top:170px;width:178px;height:39px;background:#ffffff;border:3px solid #000000;color:#d02a2a;"><div class="t" style="font-family:'Liberation Serif', serif;font-size:10.5px;line-height:10.19px;text-transform:uppercase;font-weight:normal;-webkit-text-stroke:0.1px currentColor;padding-bottom:3px;padding-top:0px;letter-spacing:1.08px;margin-right:-1.08px"><div><span>Baldwin IV</span></div><div><span>Leper King of Jerusalem</span></div></div></div><div class="icons" style="left:543.0px;top:202px;width:34px"><svg width="17" height="18" viewBox="0 0 17 18" style="display:block"><rect x="0.5" y="0.5" width="16" height="17" rx="3.5" ry="3.5" fill="#fff" stroke="#5e8fd4" stroke-width="1"/><rect x="3.5" y="2.5" width="11" height="13" fill="#f7f0b0" stroke="#0b0b2a" stroke-width="1"/><rect x="8.5" y="3" width="5.5" height="5.5" fill="#7d9fd2"/><path d="M8.5 8.5 L10.5 6 L14 8.5 Z" fill="#3a8a4a"/><circle cx="12.8" cy="4.3" r="1.1" fill="#e88f8f"/><path d="M8.5 8.5 H14 M8.5 3 V8.5" fill="none" stroke="#333" stroke-width="0.6"/><path d="M5 4.5 H7.5 M5 6.5 H7.5 M5 8.5 H7.5 M5 10.5 H13 M5 12.5 H13" fill="none" stroke="#222" stroke-width="1"/></svg><svg width="17" height="18" viewBox="0 0 17 18" style="display:block"><rect x="0.5" y="0.5" width="16" height="17" rx="3.5" ry="3.5" fill="#fff" stroke="#5e8fd4" stroke-width="1"/><path d="M3.5 2.5 H10.5 L14.5 6.5 V15.5 H3.5 Z" fill="#f7f0b0" stroke="#0b0b2a" stroke-width="1"/><path d="M5 5.5 H9.5 M5 7.5 H13 M5 9.5 H13 M5 11.5 H10 M5 13.5 H13" fill="none" stroke="#333" stroke-width="1"/></svg></div>
<div class="box" style="left:301px;top:294px;width:164px;height:28px;background:#e6e6e3;border:3px solid #0000d0;color:#141414;"><div class="t" style="font-family:'Liberation Serif', serif;font-size:10.5px;line-height:10.19px;text-transform:uppercase;font-weight:normal;-webkit-text-stroke:0.1px currentColor;padding-bottom:3px;padding-top:2px;letter-spacing:1.21px;margin-right:-1.21px"><div><span>Humphrey IV of Toron</span></div></div></div><div class="icons" style="left:374.0px;top:315px;width:17px"><svg width="17" height="18" viewBox="0 0 17 18" style="display:block"><rect x="0.5" y="0.5" width="16" height="17" rx="3.5" ry="3.5" fill="#fff" stroke="#5e8fd4" stroke-width="1"/><rect x="3.5" y="2.5" width="11" height="13" fill="#f7f0b0" stroke="#0b0b2a" stroke-width="1"/><rect x="8.5" y="3" width="5.5" height="5.5" fill="#7d9fd2"/><path d="M8.5 8.5 L10.5 6 L14 8.5 Z" fill="#3a8a4a"/><circle cx="12.8" cy="4.3" r="1.1" fill="#e88f8f"/><path d="M8.5 8.5 H14 M8.5 3 V8.5" fill="none" stroke="#333" stroke-width="0.6"/><path d="M5 4.5 H7.5 M5 6.5 H7.5 M5 8.5 H7.5 M5 10.5 H13 M5 12.5 H13" fill="none" stroke="#222" stroke-width="1"/></svg></div>
<div class="box" style="left:483px;top:278px;width:88px;height:39px;background:#e6e6e3;border:3px solid #0000d0;color:#141414;"><div class="t" style="font-family:'Liberation Serif', serif;font-size:10.5px;line-height:10.19px;text-transform:uppercase;font-weight:normal;-webkit-text-stroke:0.1px currentColor;padding-bottom:3px;padding-top:0px;letter-spacing:0.73px;margin-right:-0.73px"><div><span>Isabella of</span></div><div><span>Jerusalem</span></div></div></div><div class="icons" style="left:518.0px;top:310px;width:17px"><svg width="17" height="18" viewBox="0 0 17 18" style="display:block"><rect x="0.5" y="0.5" width="16" height="17" rx="3.5" ry="3.5" fill="#fff" stroke="#5e8fd4" stroke-width="1"/><rect x="3.5" y="2.5" width="11" height="13" fill="#f7f0b0" stroke="#0b0b2a" stroke-width="1"/><rect x="8.5" y="3" width="5.5" height="5.5" fill="#7d9fd2"/><path d="M8.5 8.5 L10.5 6 L14 8.5 Z" fill="#3a8a4a"/><circle cx="12.8" cy="4.3" r="1.1" fill="#e88f8f"/><path d="M8.5 8.5 H14 M8.5 3 V8.5" fill="none" stroke="#333" stroke-width="0.6"/><path d="M5 4.5 H7.5 M5 6.5 H7.5 M5 8.5 H7.5 M5 10.5 H13 M5 12.5 H13" fill="none" stroke="#222" stroke-width="1"/></svg></div>
<div class="box" style="left:627px;top:278px;width:84px;height:39px;background:#e6e6e3;border:3px solid #f2c417;color:#141414;"><div class="t" style="font-family:'Liberation Serif', serif;font-size:10.5px;line-height:10.19px;text-transform:uppercase;font-weight:normal;-webkit-text-stroke:0.1px currentColor;padding-bottom:3px;padding-top:0px;letter-spacing:1.16px;margin-right:-1.16px"><div><span>Sibylla of</span></div><div><span>Jerusalem</span></div></div></div><div class="icons" style="left:660.0px;top:310px;width:17px"><svg width="17" height="18" viewBox="0 0 17 18" style="display:block"><rect x="0.5" y="0.5" width="16" height="17" rx="3.5" ry="3.5" fill="#fff" stroke="#5e8fd4" stroke-width="1"/><rect x="3.5" y="2.5" width="11" height="13" fill="#f7f0b0" stroke="#0b0b2a" stroke-width="1"/><rect x="8.5" y="3" width="5.5" height="5.5" fill="#7d9fd2"/><path d="M8.5 8.5 L10.5 6 L14 8.5 Z" fill="#3a8a4a"/><circle cx="12.8" cy="4.3" r="1.1" fill="#e88f8f"/><path d="M8.5 8.5 H14 M8.5 3 V8.5" fill="none" stroke="#333" stroke-width="0.6"/><path d="M5 4.5 H7.5 M5 6.5 H7.5 M5 8.5 H7.5 M5 10.5 H13 M5 12.5 H13" fill="none" stroke="#222" stroke-width="1"/></svg></div>
<div class="box" style="left:753px;top:246px;width:118px;height:40px;background:#e6e6e3;border:3px solid #000000;color:#141414;"><div class="t" style="font-family:'Liberation Serif', serif;font-size:10.5px;line-height:10.19px;text-transform:uppercase;font-weight:normal;-webkit-text-stroke:0.1px currentColor;padding-bottom:3px;padding-top:0px;letter-spacing:1.45px;margin-right:-1.45px"><div><span>William V</span></div><div><span>of Montferrat</span></div></div></div><div class="icons" style="left:786.0px;top:279px;width:51px"><svg width="17" height="18" viewBox="0 0 17 18" style="display:block"><rect x="0.5" y="0.5" width="16" height="17" rx="3.5" ry="3.5" fill="#fff" stroke="#5e8fd4" stroke-width="1"/><defs><linearGradient id="sky" x1="0" y1="0" x2="0" y2="1"><stop offset="0" stop-color="#eef5fc"/><stop offset="1" stop-color="#a9c9ea"/></linearGradient></defs><rect x="3.5" y="2.5" width="11" height="13" fill="url(#sky)" stroke="#0b0b2a" stroke-width="1"/><circle cx="10.8" cy="6" r="1.7" fill="#f3e27a" stroke="#c8a800" stroke-width="0.5"/><path d="M4 15 V12 L8 8.6 L14 13.2 V15 Z" fill="#2e8b2e"/><path d="M6.5 14.2 L10 12.3 M9 15 L12 13.4" fill="none" stroke="#a8d8a0" stroke-width="0.8"/></svg><svg width="17" height="18" viewBox="0 0 17 18" style="display:block"><rect x="0.5" y="0.5" width="16" height="17" rx="3.5" ry="3.5" fill="#fff" stroke="#5e8fd4" stroke-width="1"/><rect x="3.5" y="2.5" width="11" height="13" fill="#f7f0b0" stroke="#0b0b2a" stroke-width="1"/><rect x="8.5" y="3" width="5.5" height="5.5" fill="#7d9fd2"/><path d="M8.5 8.5 L10.5 6 L14 8.5 Z" fill="#3a8a4a"/><circle cx="12.8" cy="4.3" r="1.1" fill="#e88f8f"/><path d="M8.5 8.5 H14 M8.5 3 V8.5" fill="none" stroke="#333" stroke-width="0.6"/><path d="M5 4.5 H7.5 M5 6.5 H7.5 M5 8.5 H7.5 M5 10.5 H13 M5 12.5 H13" fill="none" stroke="#222" stroke-width="1"/></svg><svg width="17" height="18" viewBox="0 0 17 18" style="display:block"><rect x="0.5" y="0.5" width="16" height="17" rx="3.5" ry="3.5" fill="#fff" stroke="#5e8fd4" stroke-width="1"/><path d="M3.5 2.5 H10.5 L14.5 6.5 V15.5 H3.5 Z" fill="#f7f0b0" stroke="#0b0b2a" stroke-width="1"/><path d="M5 5.5 H9.5 M5 7.5 H13 M5 9.5 H13 M5 11.5 H10 M5 13.5 H13" fill="none" stroke="#333" stroke-width="1"/></svg></div>
<div class="box" style="left:962px;top:271px;width:122px;height:28px;background:#e6e6e3;border:3px solid #f2c417;color:#141414;"><div class="t" style="font-family:'Liberation Serif', serif;font-size:10.5px;line-height:10.19px;text-transform:uppercase;font-weight:normal;-webkit-text-stroke:0.1px currentColor;padding-bottom:3px;padding-top:2px;letter-spacing:0.99px;margin-right:-0.99px"><div><span>Guy of Lusignan</span></div></div></div><div class="icons" style="left:1006.0px;top:292px;width:34px"><svg width="17" height="18" viewBox="0 0 17 18" style="display:block"><rect x="0.5" y="0.5" width="16" height="17" rx="3.5" ry="3.5" fill="#fff" stroke="#5e8fd4" stroke-width="1"/><defs><linearGradient id="sky" x1="0" y1="0" x2="0" y2="1"><stop offset="0" stop-color="#eef5fc"/><stop offset="1" stop-color="#a9c9ea"/></linearGradient></defs><rect x="3.5" y="2.5" width="11" height="13" fill="url(#sky)" stroke="#0b0b2a" stroke-width="1"/><circle cx="10.8" cy="6" r="1.7" fill="#f3e27a" stroke="#c8a800" stroke-width="0.5"/><path d="M4 15 V12 L8 8.6 L14 13.2 V15 Z" fill="#2e8b2e"/><path d="M6.5 14.2 L10 12.3 M9 15 L12 13.4" fill="none" stroke="#a8d8a0" stroke-width="0.8"/></svg><svg width="17" height="18" viewBox="0 0 17 18" style="display:block"><rect x="0.5" y="0.5" width="16" height="17" rx="3.5" ry="3.5" fill="#fff" stroke="#5e8fd4" stroke-width="1"/><rect x="3.5" y="2.5" width="11" height="13" fill="#f7f0b0" stroke="#0b0b2a" stroke-width="1"/><rect x="8.5" y="3" width="5.5" height="5.5" fill="#7d9fd2"/><path d="M8.5 8.5 L10.5 6 L14 8.5 Z" fill="#3a8a4a"/><circle cx="12.8" cy="4.3" r="1.1" fill="#e88f8f"/><path d="M8.5 8.5 H14 M8.5 3 V8.5" fill="none" stroke="#333" stroke-width="0.6"/><path d="M5 4.5 H7.5 M5 6.5 H7.5 M5 8.5 H7.5 M5 10.5 H13 M5 12.5 H13" fill="none" stroke="#222" stroke-width="1"/></svg></div>
<div class="box" style="left:686px;top:350px;width:154px;height:28px;background:#ffffff;border:3px solid #000000;color:#d02a2a;"><div class="t" style="font-family:'Liberation Serif', serif;font-size:10.5px;line-height:10.19px;text-transform:uppercase;font-weight:normal;-webkit-text-stroke:0.1px currentColor;padding-bottom:3px;padding-top:2px;letter-spacing:0.82px;margin-right:-0.82px"><div><span>Willaim "Longsword"</span></div></div></div><div class="icons" style="left:746.0px;top:371px;width:34px"><svg width="17" height="18" viewBox="0 0 17 18" style="display:block"><rect x="0.5" y="0.5" width="16" height="17" rx="3.5" ry="3.5" fill="#fff" stroke="#5e8fd4" stroke-width="1"/><defs><linearGradient id="sky" x1="0" y1="0" x2="0" y2="1"><stop offset="0" stop-color="#eef5fc"/><stop offset="1" stop-color="#a9c9ea"/></linearGradient></defs><rect x="3.5" y="2.5" width="11" height="13" fill="url(#sky)" stroke="#0b0b2a" stroke-width="1"/><circle cx="10.8" cy="6" r="1.7" fill="#f3e27a" stroke="#c8a800" stroke-width="0.5"/><path d="M4 15 V12 L8 8.6 L14 13.2 V15 Z" fill="#2e8b2e"/><path d="M6.5 14.2 L10 12.3 M9 15 L12 13.4" fill="none" stroke="#a8d8a0" stroke-width="0.8"/></svg><svg width="17" height="18" viewBox="0 0 17 18" style="display:block"><rect x="0.5" y="0.5" width="16" height="17" rx="3.5" ry="3.5" fill="#fff" stroke="#5e8fd4" stroke-width="1"/><rect x="3.5" y="2.5" width="11" height="13" fill="#f7f0b0" stroke="#0b0b2a" stroke-width="1"/><rect x="8.5" y="3" width="5.5" height="5.5" fill="#7d9fd2"/><path d="M8.5 8.5 L10.5 6 L14 8.5 Z" fill="#3a8a4a"/><circle cx="12.8" cy="4.3" r="1.1" fill="#e88f8f"/><path d="M8.5 8.5 H14 M8.5 3 V8.5" fill="none" stroke="#333" stroke-width="0.6"/><path d="M5 4.5 H7.5 M5 6.5 H7.5 M5 8.5 H7.5 M5 10.5 H13 M5 12.5 H13" fill="none" stroke="#222" stroke-width="1"/></svg></div>
<div class="box" style="left:858px;top:317px;width:124px;height:40px;background:#e6e6e3;border:3px solid #f2c417;color:#141414;"><div class="t" style="font-family:'Liberation Serif', serif;font-size:10.5px;line-height:10.19px;text-transform:uppercase;font-weight:normal;-webkit-text-stroke:0.1px currentColor;padding-bottom:3px;padding-top:0px;letter-spacing:1.12px;margin-right:-1.12px"><div><span>Joscelin III</span></div><div><span>Count of Edessa</span></div></div></div><div class="icons" style="left:912.0px;top:350px;width:17px"><svg width="17" height="18" viewBox="0 0 17 18" style="display:block"><rect x="0.5" y="0.5" width="16" height="17" rx="3.5" ry="3.5" fill="#fff" stroke="#5e8fd4" stroke-width="1"/><rect x="3.5" y="2.5" width="11" height="13" fill="#f7f0b0" stroke="#0b0b2a" stroke-width="1"/><rect x="8.5" y="3" width="5.5" height="5.5" fill="#7d9fd2"/><path d="M8.5 8.5 L10.5 6 L14 8.5 Z" fill="#3a8a4a"/><circle cx="12.8" cy="4.3" r="1.1" fill="#e88f8f"/><path d="M8.5 8.5 H14 M8.5 3 V8.5" fill="none" stroke="#333" stroke-width="0.6"/><path d="M5 4.5 H7.5 M5 6.5 H7.5 M5 8.5 H7.5 M5 10.5 H13 M5 12.5 H13" fill="none" stroke="#222" stroke-width="1"/></svg></div>
<div class="box" style="left:36px;top:399px;width:164px;height:50px;background:#e6e6e3;border:3px solid #0000d0;color:#141414;"><div class="t" style="font-family:'Liberation Serif', serif;font-size:10.5px;line-height:10.19px;text-transform:uppercase;font-weight:normal;-webkit-text-stroke:0.1px currentColor;padding-bottom:3px;padding-top:0px;letter-spacing:1.33px;margin-right:-1.33px"><div><span>Roger des Moulins</span></div><div><span>Grand Master of the</span></div><div><span>Knights Hospitalier</span></div></div></div><div class="icons" style="left:101.0px;top:442px;width:34px"><svg width="17" height="18" viewBox="0 0 17 18" style="display:block"><rect x="0.5" y="0.5" width="16" height="17" rx="3.5" ry="3.5" fill="#fff" stroke="#5e8fd4" stroke-width="1"/><defs><linearGradient id="sky" x1="0" y1="0" x2="0" y2="1"><stop offset="0" stop-color="#eef5fc"/><stop offset="1" stop-color="#a9c9ea"/></linearGradient></defs><rect x="3.5" y="2.5" width="11" height="13" fill="url(#sky)" stroke="#0b0b2a" stroke-width="1"/><circle cx="10.8" cy="6" r="1.7" fill="#f3e27a" stroke="#c8a800" stroke-width="0.5"/><path d="M4 15 V12 L8 8.6 L14 13.2 V15 Z" fill="#2e8b2e"/><path d="M6.5 14.2 L10 12.3 M9 15 L12 13.4" fill="none" stroke="#a8d8a0" stroke-width="0.8"/></svg><svg width="17" height="18" viewBox="0 0 17 18" style="display:block"><rect x="0.5" y="0.5" width="16" height="17" rx="3.5" ry="3.5" fill="#fff" stroke="#5e8fd4" stroke-width="1"/><rect x="3.5" y="2.5" width="11" height="13" fill="#f7f0b0" stroke="#0b0b2a" stroke-width="1"/><rect x="8.5" y="3" width="5.5" height="5.5" fill="#7d9fd2"/><path d="M8.5 8.5 L10.5 6 L14 8.5 Z" fill="#3a8a4a"/><circle cx="12.8" cy="4.3" r="1.1" fill="#e88f8f"/><path d="M8.5 8.5 H14 M8.5 3 V8.5" fill="none" stroke="#333" stroke-width="0.6"/><path d="M5 4.5 H7.5 M5 6.5 H7.5 M5 8.5 H7.5 M5 10.5 H13 M5 12.5 H13" fill="none" stroke="#222" stroke-width="1"/></svg></div>
<div class="box" style="left:81px;top:479px;width:144px;height:40px;background:#e6e6e3;border:3px solid #0000d0;color:#141414;"><div class="t" style="font-family:'Liberation Serif', serif;font-size:10.5px;line-height:10.19px;text-transform:uppercase;font-weight:normal;-webkit-text-stroke:0.1px currentColor;padding-bottom:3px;padding-top:0px;letter-spacing:0.96px;margin-right:-0.96px"><div><span>Joscius</span></div><div><span>Archbishop of Tyre</span></div></div></div><div class="icons" style="left:144.0px;top:512px;width:17px"><svg width="17" height="18" viewBox="0 0 17 18" style="display:block"><rect x="0.5" y="0.5" width="16" height="17" rx="3.5" ry="3.5" fill="#fff" stroke="#5e8fd4" stroke-width="1"/><rect x="3.5" y="2.5" width="11" height="13" fill="#f7f0b0" stroke="#0b0b2a" stroke-width="1"/><rect x="8.5" y="3" width="5.5" height="5.5" fill="#7d9fd2"/><path d="M8.5 8.5 L10.5 6 L14 8.5 Z" fill="#3a8a4a"/><circle cx="12.8" cy="4.3" r="1.1" fill="#e88f8f"/><path d="M8.5 8.5 H14 M8.5 3 V8.5" fill="none" stroke="#333" stroke-width="0.6"/><path d="M5 4.5 H7.5 M5 6.5 H7.5 M5 8.5 H7.5 M5 10.5 H13 M5 12.5 H13" fill="none" stroke="#222" stroke-width="1"/></svg></div>
<div class="box" style="left:326px;top:465px;width:124px;height:40px;background:#e6e6e3;border:3px solid #0000d0;color:#141414;"><div class="t" style="font-family:'Liberation Serif', serif;font-size:10.5px;line-height:10.19px;text-transform:uppercase;font-weight:normal;-webkit-text-stroke:0.1px currentColor;padding-bottom:3px;padding-top:0px;letter-spacing:0.99px;margin-right:-0.99px"><div><span>Raymond III</span></div><div><span>Count of Tripoli</span></div></div></div><div class="icons" style="left:380.0px;top:498px;width:17px"><svg width="17" height="18" viewBox="0 0 17 18" style="display:block"><rect x="0.5" y="0.5" width="16" height="17" rx="3.5" ry="3.5" fill="#fff" stroke="#5e8fd4" stroke-width="1"/><rect x="3.5" y="2.5" width="11" height="13" fill="#f7f0b0" stroke="#0b0b2a" stroke-width="1"/><rect x="8.5" y="3" width="5.5" height="5.5" fill="#7d9fd2"/><path d="M8.5 8.5 L10.5 6 L14 8.5 Z" fill="#3a8a4a"/><circle cx="12.8" cy="4.3" r="1.1" fill="#e88f8f"/><path d="M8.5 8.5 H14 M8.5 3 V8.5" fill="none" stroke="#333" stroke-width="0.6"/><path d="M5 4.5 H7.5 M5 6.5 H7.5 M5 8.5 H7.5 M5 10.5 H13 M5 12.5 H13" fill="none" stroke="#222" stroke-width="1"/></svg></div>
<div class="box" style="left:473px;top:412px;width:230px;height:46px;background:#ffca00;border:3px solid #8e8e8e;color:#141414;"><div class="t" style="font-family:'Liberation Serif', serif;font-size:14.5px;line-height:14.06px;text-transform:uppercase;font-weight:normal;-webkit-text-stroke:0.1px currentColor;padding-bottom:3px;padding-top:0px;letter-spacing:1.01px;margin-right:-1.01px"><div><span>Baldwin V</span></div><div><span>Child King of Jerusalem</span></div></div></div><div class="icons" style="left:571.0px;top:451px;width:34px"><svg width="17" height="18" viewBox="0 0 17 18" style="display:block"><rect x="0.5" y="0.5" width="16" height="17" rx="3.5" ry="3.5" fill="#fff" stroke="#5e8fd4" stroke-width="1"/><defs><linearGradient id="sky" x1="0" y1="0" x2="0" y2="1"><stop offset="0" stop-color="#eef5fc"/><stop offset="1" stop-color="#a9c9ea"/></linearGradient></defs><rect x="3.5" y="2.5" width="11" height="13" fill="url(#sky)" stroke="#0b0b2a" stroke-width="1"/><circle cx="10.8" cy="6" r="1.7" fill="#f3e27a" stroke="#c8a800" stroke-width="0.5"/><path d="M4 15 V12 L8 8.6 L14 13.2 V15 Z" fill="#2e8b2e"/><path d="M6.5 14.2 L10 12.3 M9 15 L12 13.4" fill="none" stroke="#a8d8a0" stroke-width="0.8"/></svg><svg width="17" height="18" viewBox="0 0 17 18" style="display:block"><rect x="0.5" y="0.5" width="16" height="17" rx="3.5" ry="3.5" fill="#fff" stroke="#5e8fd4" stroke-width="1"/><rect x="3.5" y="2.5" width="11" height="13" fill="#f7f0b0" stroke="#0b0b2a" stroke-width="1"/><rect x="8.5" y="3" width="5.5" height="5.5" fill="#7d9fd2"/><path d="M8.5 8.5 L10.5 6 L14 8.5 Z" fill="#3a8a4a"/><circle cx="12.8" cy="4.3" r="1.1" fill="#e88f8f"/><path d="M8.5 8.5 H14 M8.5 3 V8.5" fill="none" stroke="#333" stroke-width="0.6"/><path d="M5 4.5 H7.5 M5 6.5 H7.5 M5 8.5 H7.5 M5 10.5 H13 M5 12.5 H13" fill="none" stroke="#222" stroke-width="1"/></svg></div>
<div class="box" style="left:721px;top:462px;width:178px;height:39px;background:#e6e6e3;border:3px solid #f2c417;color:#141414;"><div class="t" style="font-family:'Liberation Serif', serif;font-size:10.5px;line-height:10.19px;text-transform:uppercase;font-weight:normal;-webkit-text-stroke:0.1px currentColor;padding-bottom:3px;padding-top:0px;letter-spacing:1.25px;margin-right:-1.25px"><div><span>Heraclius</span></div><div><span>Patriarch of Jerusalem</span></div></div></div><div class="icons" style="left:802.0px;top:494px;width:17px"><svg width="17" height="18" viewBox="0 0 17 18" style="display:block"><rect x="0.5" y="0.5" width="16" height="17" rx="3.5" ry="3.5" fill="#fff" stroke="#5e8fd4" stroke-width="1"/><rect x="3.5" y="2.5" width="11" height="13" fill="#f7f0b0" stroke="#0b0b2a" stroke-width="1"/><rect x="8.5" y="3" width="5.5" height="5.5" fill="#7d9fd2"/><path d="M8.5 8.5 L10.5 6 L14 8.5 Z" fill="#3a8a4a"/><circle cx="12.8" cy="4.3" r="1.1" fill="#e88f8f"/><path d="M8.5 8.5 H14 M8.5 3 V8.5" fill="none" stroke="#333" stroke-width="0.6"/><path d="M5 4.5 H7.5 M5 6.5 H7.5 M5 8.5 H7.5 M5 10.5 H13 M5 12.5 H13" fill="none" stroke="#222" stroke-width="1"/></svg></div>
<div class="box" style="left:786px;top:528px;width:158px;height:49px;background:#e6e6e3;border:3px solid #f2c417;color:#141414;"><div class="t" style="font-family:'Liberation Serif', serif;font-size:10.5px;line-height:10.19px;text-transform:uppercase;font-weight:normal;-webkit-text-stroke:0.1px currentColor;padding-bottom:3px;padding-top:0px;letter-spacing:1.27px;margin-right:-1.27px"><div><span>Gerard de Ridefort</span></div><div><span>Grand Master of</span></div><div><span>the Knights Templar</span></div></div></div><div class="icons" style="left:848.0px;top:570px;width:34px"><svg width="17" height="18" viewBox="0 0 17 18" style="display:block"><rect x="0.5" y="0.5" width="16" height="17" rx="3.5" ry="3.5" fill="#fff" stroke="#5e8fd4" stroke-width="1"/><defs><linearGradient id="sky" x1="0" y1="0" x2="0" y2="1"><stop offset="0" stop-color="#eef5fc"/><stop offset="1" stop-color="#a9c9ea"/></linearGradient></defs><rect x="3.5" y="2.5" width="11" height="13" fill="url(#sky)" stroke="#0b0b2a" stroke-width="1"/><circle cx="10.8" cy="6" r="1.7" fill="#f3e27a" stroke="#c8a800" stroke-width="0.5"/><path d="M4 15 V12 L8 8.6 L14 13.2 V15 Z" fill="#2e8b2e"/><path d="M6.5 14.2 L10 12.3 M9 15 L12 13.4" fill="none" stroke="#a8d8a0" stroke-width="0.8"/></svg><svg width="17" height="18" viewBox="0 0 17 18" style="display:block"><rect x="0.5" y="0.5" width="16" height="17" rx="3.5" ry="3.5" fill="#fff" stroke="#5e8fd4" stroke-width="1"/><rect x="3.5" y="2.5" width="11" height="13" fill="#f7f0b0" stroke="#0b0b2a" stroke-width="1"/><rect x="8.5" y="3" width="5.5" height="5.5" fill="#7d9fd2"/><path d="M8.5 8.5 L10.5 6 L14 8.5 Z" fill="#3a8a4a"/><circle cx="12.8" cy="4.3" r="1.1" fill="#e88f8f"/><path d="M8.5 8.5 H14 M8.5 3 V8.5" fill="none" stroke="#333" stroke-width="0.6"/><path d="M5 4.5 H7.5 M5 6.5 H7.5 M5 8.5 H7.5 M5 10.5 H13 M5 12.5 H13" fill="none" stroke="#222" stroke-width="1"/></svg></div>
<div class="box" style="left:989px;top:497px;width:90px;height:38px;background:#e6e6e3;border:3px solid #f2c417;color:#141414;"><div class="t" style="font-family:'Liberation Serif', serif;font-size:10.5px;line-height:10.19px;text-transform:uppercase;font-weight:normal;-webkit-text-stroke:0.1px currentColor;padding-bottom:3px;padding-top:0px;letter-spacing:1.06px;margin-right:-1.06px"><div><span>Raynald of</span></div><div><span>Chatillon</span></div></div></div><div class="icons" style="left:1017.0px;top:528px;width:34px"><svg width="17" height="18" viewBox="0 0 17 18" style="display:block"><rect x="0.5" y="0.5" width="16" height="17" rx="3.5" ry="3.5" fill="#fff" stroke="#5e8fd4" stroke-width="1"/><defs><linearGradient id="sky" x1="0" y1="0" x2="0" y2="1"><stop offset="0" stop-color="#eef5fc"/><stop offset="1" stop-color="#a9c9ea"/></linearGradient></defs><rect x="3.5" y="2.5" width="11" height="13" fill="url(#sky)" stroke="#0b0b2a" stroke-width="1"/><circle cx="10.8" cy="6" r="1.7" fill="#f3e27a" stroke="#c8a800" stroke-width="0.5"/><path d="M4 15 V12 L8 8.6 L14 13.2 V15 Z" fill="#2e8b2e"/><path d="M6.5 14.2 L10 12.3 M9 15 L12 13.4" fill="none" stroke="#a8d8a0" stroke-width="0.8"/></svg><svg width="17" height="18" viewBox="0 0 17 18" style="display:block"><rect x="0.5" y="0.5" width="16" height="17" rx="3.5" ry="3.5" fill="#fff" stroke="#5e8fd4" stroke-width="1"/><rect x="3.5" y="2.5" width="11" height="13" fill="#f7f0b0" stroke="#0b0b2a" stroke-width="1"/><rect x="8.5" y="3" width="5.5" height="5.5" fill="#7d9fd2"/><path d="M8.5 8.5 L10.5 6 L14 8.5 Z" fill="#3a8a4a"/><circle cx="12.8" cy="4.3" r="1.1" fill="#e88f8f"/><path d="M8.5 8.5 H14 M8.5 3 V8.5" fill="none" stroke="#333" stroke-width="0.6"/><path d="M5 4.5 H7.5 M5 6.5 H7.5 M5 8.5 H7.5 M5 10.5 H13 M5 12.5 H13" fill="none" stroke="#222" stroke-width="1"/></svg></div>
<div class="box" style="left:222px;top:582px;width:130px;height:26px;background:#e6e6e3;border:3px solid #0000d0;color:#141414;"><div class="t" style="font-family:'Liberation Serif', serif;font-size:10.5px;line-height:10.19px;text-transform:uppercase;font-weight:normal;-webkit-text-stroke:0.1px currentColor;padding-bottom:3px;padding-top:2px;letter-spacing:0.77px;margin-right:-0.77px"><div><span>Baldwin of Ibelin</span></div></div></div><div class="icons" style="left:262.0px;top:601px;width:51px"><svg width="17" height="18" viewBox="0 0 17 18" style="display:block"><rect x="0.5" y="0.5" width="16" height="17" rx="3.5" ry="3.5" fill="#fff" stroke="#5e8fd4" stroke-width="1"/><defs><linearGradient id="sky" x1="0" y1="0" x2="0" y2="1"><stop offset="0" stop-color="#eef5fc"/><stop offset="1" stop-color="#a9c9ea"/></linearGradient></defs><rect x="3.5" y="2.5" width="11" height="13" fill="url(#sky)" stroke="#0b0b2a" stroke-width="1"/><circle cx="10.8" cy="6" r="1.7" fill="#f3e27a" stroke="#c8a800" stroke-width="0.5"/><path d="M4 15 V12 L8 8.6 L14 13.2 V15 Z" fill="#2e8b2e"/><path d="M6.5 14.2 L10 12.3 M9 15 L12 13.4" fill="none" stroke="#a8d8a0" stroke-width="0.8"/></svg><svg width="17" height="18" viewBox="0 0 17 18" style="display:block"><rect x="0.5" y="0.5" width="16" height="17" rx="3.5" ry="3.5" fill="#fff" stroke="#5e8fd4" stroke-width="1"/><rect x="3.5" y="2.5" width="11" height="13" fill="#f7f0b0" stroke="#0b0b2a" stroke-width="1"/><rect x="8.5" y="3" width="5.5" height="5.5" fill="#7d9fd2"/><path d="M8.5 8.5 L10.5 6 L14 8.5 Z" fill="#3a8a4a"/><circle cx="12.8" cy="4.3" r="1.1" fill="#e88f8f"/><path d="M8.5 8.5 H14 M8.5 3 V8.5" fill="none" stroke="#333" stroke-width="0.6"/><path d="M5 4.5 H7.5 M5 6.5 H7.5 M5 8.5 H7.5 M5 10.5 H13 M5 12.5 H13" fill="none" stroke="#222" stroke-width="1"/></svg><svg width="17" height="18" viewBox="0 0 17 18" style="display:block"><rect x="0.5" y="0.5" width="16" height="17" rx="3.5" ry="3.5" fill="#fff" stroke="#5e8fd4" stroke-width="1"/><path d="M3.5 2.5 H10.5 L14.5 6.5 V15.5 H3.5 Z" fill="#f7f0b0" stroke="#0b0b2a" stroke-width="1"/><path d="M5 5.5 H9.5 M5 7.5 H13 M5 9.5 H13 M5 11.5 H10 M5 13.5 H13" fill="none" stroke="#333" stroke-width="1"/></svg></div>
<div class="box" style="left:523px;top:563px;width:70px;height:34px;background:#0a800a;border:3px solid #94c832;color:#d6efcf;"><div class="t" style="font-family:'Liberation Serif', serif;font-size:17px;line-height:24.14px;text-transform:none;font-weight:normal;padding-bottom:3px;padding-top:0px;letter-spacing:0.50px;margin-right:-0.50px"><div><span>Saladin</span></div></div></div><div class="icons" style="left:550.0px;top:590px;width:17px"><svg width="17" height="18" viewBox="0 0 17 18" style="display:block"><rect x="0.5" y="0.5" width="16" height="17" rx="3.5" ry="3.5" fill="#fff" stroke="#5e8fd4" stroke-width="1"/><rect x="3.5" y="2.5" width="11" height="13" fill="#f7f0b0" stroke="#0b0b2a" stroke-width="1"/><rect x="8.5" y="3" width="5.5" height="5.5" fill="#7d9fd2"/><path d="M8.5 8.5 L10.5 6 L14 8.5 Z" fill="#3a8a4a"/><circle cx="12.8" cy="4.3" r="1.1" fill="#e88f8f"/><path d="M8.5 8.5 H14 M8.5 3 V8.5" fill="none" stroke="#333" stroke-width="0.6"/><path d="M5 4.5 H7.5 M5 6.5 H7.5 M5 8.5 H7.5 M5 10.5 H13 M5 12.5 H13" fill="none" stroke="#222" stroke-width="1"/></svg></div>
<div class="box" style="left:401px;top:648px;width:62px;height:30px;background:#92c41a;border:3px solid #3a9a5a;color:#2a2a2a;"><div class="t" style="font-family:'Liberation Serif', serif;font-size:13px;line-height:18.46px;text-transform:none;font-weight:normal;padding-bottom:3px;padding-top:0px;letter-spacing:-0.00px;margin-right:0.00px"><div><span>Al-Adil I</span></div></div></div><div class="icons" style="left:424.0px;top:671px;width:17px"><svg width="17" height="18" viewBox="0 0 17 18" style="display:block"><rect x="0.5" y="0.5" width="16" height="17" rx="3.5" ry="3.5" fill="#fff" stroke="#5e8fd4" stroke-width="1"/><rect x="3.5" y="2.5" width="11" height="13" fill="#f7f0b0" stroke="#0b0b2a" stroke-width="1"/><rect x="8.5" y="3" width="5.5" height="5.5" fill="#7d9fd2"/><path d="M8.5 8.5 L10.5 6 L14 8.5 Z" fill="#3a8a4a"/><circle cx="12.8" cy="4.3" r="1.1" fill="#e88f8f"/><path d="M8.5 8.5 H14 M8.5 3 V8.5" fill="none" stroke="#333" stroke-width="0.6"/><path d="M5 4.5 H7.5 M5 6.5 H7.5 M5 8.5 H7.5 M5 10.5 H13 M5 12.5 H13" fill="none" stroke="#222" stroke-width="1"/></svg></div>
<div class="box" style="left:638px;top:660px;width:176px;height:48px;background:#92c41a;border:3px solid #3a9a5a;color:#2a2a2a;"><div class="t" style="font-family:'Liberation Serif', serif;font-size:12px;line-height:17.04px;text-transform:none;font-weight:normal;padding-bottom:3px;padding-top:0px;letter-spacing:0.62px;margin-right:-0.62px"><div><span>The Old Man of the Mountain</span></div><div><span>and the Hashashin</span></div></div></div><div class="icons" style="left:718.0px;top:701px;width:17px"><svg width="17" height="18" viewBox="0 0 17 18" style="display:block"><rect x="0.5" y="0.5" width="16" height="17" rx="3.5" ry="3.5" fill="#fff" stroke="#5e8fd4" stroke-width="1"/><rect x="3.5" y="2.5" width="11" height="13" fill="#f7f0b0" stroke="#0b0b2a" stroke-width="1"/><rect x="8.5" y="3" width="5.5" height="5.5" fill="#7d9fd2"/><path d="M8.5 8.5 L10.5 6 L14 8.5 Z" fill="#3a8a4a"/><circle cx="12.8" cy="4.3" r="1.1" fill="#e88f8f"/><path d="M8.5 8.5 H14 M8.5 3 V8.5" fill="none" stroke="#333" stroke-width="0.6"/><path d="M5 4.5 H7.5 M5 6.5 H7.5 M5 8.5 H7.5 M5 10.5 H13 M5 12.5 H13" fill="none" stroke="#222" stroke-width="1"/></svg></div>
<div class="box" style="left:850px;top:657px;width:140px;height:24px;background:#e6e6e3;border:3px solid #f2c417;color:#141414;"><div class="t" style="font-family:'Liberation Serif', serif;font-size:10.5px;line-height:10.19px;text-transform:uppercase;font-weight:normal;-webkit-text-stroke:0.1px currentColor;padding-bottom:0px;padding-top:2px;letter-spacing:1.06px;margin-right:-1.06px"><div><span>Stephanie of Milly</span></div></div></div>
<div class="box" style="left:506px;top:752px;width:132px;height:40px;background:#e6e6e3;border:3px solid #000000;color:#141414;"><div class="t" style="font-family:'Liberation Serif', serif;font-size:10.5px;line-height:10.19px;text-transform:uppercase;font-weight:normal;-webkit-text-stroke:0.1px currentColor;padding-bottom:3px;padding-top:0px;letter-spacing:1.06px;margin-right:-1.06px"><div><span>Bohemund III</span></div><div><span>Prince of Antioch</span></div></div></div><div class="icons" style="left:546.0px;top:785px;width:51px"><svg width="17" height="18" viewBox="0 0 17 18" style="display:block"><rect x="0.5" y="0.5" width="16" height="17" rx="3.5" ry="3.5" fill="#fff" stroke="#5e8fd4" stroke-width="1"/><defs><linearGradient id="sky" x1="0" y1="0" x2="0" y2="1"><stop offset="0" stop-color="#eef5fc"/><stop offset="1" stop-color="#a9c9ea"/></linearGradient></defs><rect x="3.5" y="2.5" width="11" height="13" fill="url(#sky)" stroke="#0b0b2a" stroke-width="1"/><circle cx="10.8" cy="6" r="1.7" fill="#f3e27a" stroke="#c8a800" stroke-width="0.5"/><path d="M4 15 V12 L8 8.6 L14 13.2 V15 Z" fill="#2e8b2e"/><path d="M6.5 14.2 L10 12.3 M9 15 L12 13.4" fill="none" stroke="#a8d8a0" stroke-width="0.8"/></svg><svg width="17" height="18" viewBox="0 0 17 18" style="display:block"><rect x="0.5" y="0.5" width="16" height="17" rx="3.5" ry="3.5" fill="#fff" stroke="#5e8fd4" stroke-width="1"/><rect x="3.5" y="2.5" width="11" height="13" fill="#f7f0b0" stroke="#0b0b2a" stroke-width="1"/><rect x="8.5" y="3" width="5.5" height="5.5" fill="#7d9fd2"/><path d="M8.5 8.5 L10.5 6 L14 8.5 Z" fill="#3a8a4a"/><circle cx="12.8" cy="4.3" r="1.1" fill="#e88f8f"/><path d="M8.5 8.5 H14 M8.5 3 V8.5" fill="none" stroke="#333" stroke-width="0.6"/><path d="M5 4.5 H7.5 M5 6.5 H7.5 M5 8.5 H7.5 M5 10.5 H13 M5 12.5 H13" fill="none" stroke="#222" stroke-width="1"/></svg><svg width="17" height="18" viewBox="0 0 17 18" style="display:block"><rect x="0.5" y="0.5" width="16" height="17" rx="3.5" ry="3.5" fill="#fff" stroke="#5e8fd4" stroke-width="1"/><path d="M3.5 2.5 H10.5 L14.5 6.5 V15.5 H3.5 Z" fill="#f7f0b0" stroke="#0b0b2a" stroke-width="1"/><path d="M5 5.5 H9.5 M5 7.5 H13 M5 9.5 H13 M5 11.5 H10 M5 13.5 H13" fill="none" stroke="#333" stroke-width="1"/></svg></div>
<div class="box" style="left:730px;top:759px;width:62px;height:28px;background:#e6e6e3;border:3px solid #000000;color:#141414;"><div class="t" style="font-family:'Liberation Serif', serif;font-size:10.5px;line-height:10.19px;text-transform:uppercase;font-weight:normal;-webkit-text-stroke:0.1px currentColor;padding-bottom:3px;padding-top:2px;letter-spacing:0.58px;margin-right:-0.58px"><div><span>Sibylla</span></div></div></div><div class="icons" style="left:752.0px;top:780px;width:17px"><svg width="17" height="18" viewBox="0 0 17 18" style="display:block"><rect x="0.5" y="0.5" width="16" height="17" rx="3.5" ry="3.5" fill="#fff" stroke="#5e8fd4" stroke-width="1"/><path d="M3.5 2.5 H10.5 L14.5 6.5 V15.5 H3.5 Z" fill="#f7f0b0" stroke="#0b0b2a" stroke-width="1"/><path d="M5 5.5 H9.5 M5 7.5 H13 M5 9.5 H13 M5 11.5 H10 M5 13.5 H13" fill="none" stroke="#333" stroke-width="1"/></svg></div>
<div class="box" style="left:361px;top:786px;width:110px;height:30px;background:#000000;border:none;color:#ffffff;"><div class="t" style="font-family:'Liberation Sans', sans-serif;font-size:12px;line-height:14.40px;text-transform:none;font-weight:normal;padding-bottom:3px;padding-top:0px;letter-spacing:-0.03px;margin-right:0.03px"><div><span>General Thoughts</span></div></div></div><div class="icons" style="left:408.0px;top:809px;width:17px"><svg width="17" height="18" viewBox="0 0 17 18" style="display:block"><rect x="0.5" y="0.5" width="16" height="17" rx="3.5" ry="3.5" fill="#fff" stroke="#5e8fd4" stroke-width="1"/><path d="M3.5 2.5 H10.5 L14.5 6.5 V15.5 H3.5 Z" fill="#f7f0b0" stroke="#0b0b2a" stroke-width="1"/><path d="M5 5.5 H9.5 M5 7.5 H13 M5 9.5 H13 M5 11.5 H10 M5 13.5 H13" fill="none" stroke="#333" stroke-width="1"/></svg></div>
<div class="box" style="left:46px;top:733px;width:76px;height:24px;background:#ffffff;border:3px solid #000000;color:#d02a2a;"><div class="t" style="font-family:'Liberation Serif', serif;font-size:10.5px;line-height:10.19px;text-transform:uppercase;font-weight:normal;-webkit-text-stroke:0.1px currentColor;padding-bottom:0px;padding-top:2px;letter-spacing:1.02px;margin-right:-1.02px"><div><span>Deceased</span></div></div></div>
<div class="box" style="left:151px;top:739px;width:62px;height:34px;background:#e6e6e3;border:3px solid #f2c417;color:#141414;"><div class="t" style="font-family:'Liberation Serif', serif;font-size:10.5px;line-height:10.19px;text-transform:uppercase;font-weight:normal;-webkit-text-stroke:0.1px currentColor;padding-bottom:0px;padding-top:0px;letter-spacing:0.70px;margin-right:-0.70px"><div><span>“Court”</span></div><div><span>Party</span></div></div></div>
<div class="box" style="left:245px;top:745px;width:72px;height:22px;background:#e6e6e3;border:3px solid #000000;color:#141414;"><div class="t" style="font-family:'Liberation Serif', serif;font-size:10.5px;line-height:10.19px;text-transform:uppercase;font-weight:normal;-webkit-text-stroke:0.1px currentColor;padding-bottom:0px;padding-top:2px;letter-spacing:1.17px;margin-right:-1.17px"><div><span>Neutral</span></div></div></div>
<div class="box" style="left:43px;top:844px;width:80px;height:35px;background:#e6e6e3;border:3px solid #0000d0;color:#141414;"><div class="t" style="font-family:'Liberation Serif', serif;font-size:10.5px;line-height:10.19px;text-transform:uppercase;font-weight:normal;-webkit-text-stroke:0.1px currentColor;padding-bottom:0px;padding-top:0px;letter-spacing:0.45px;margin-right:-0.45px"><div><span>“Baronial”</span></div><div><span>Party</span></div></div></div>
<div class="box" style="left:264px;top:843px;width:50px;height:26px;background:#92c41a;border:3px solid #3a9a5a;color:#2a2a2a;"><div class="t" style="font-family:'Liberation Serif', serif;font-size:12.5px;line-height:17.75px;text-transform:none;font-weight:normal;padding-bottom:0px;padding-top:0px;letter-spacing:-0.52px;margin-right:0.52px"><div><span>Muslim</span></div></div></div>
</body></html>
